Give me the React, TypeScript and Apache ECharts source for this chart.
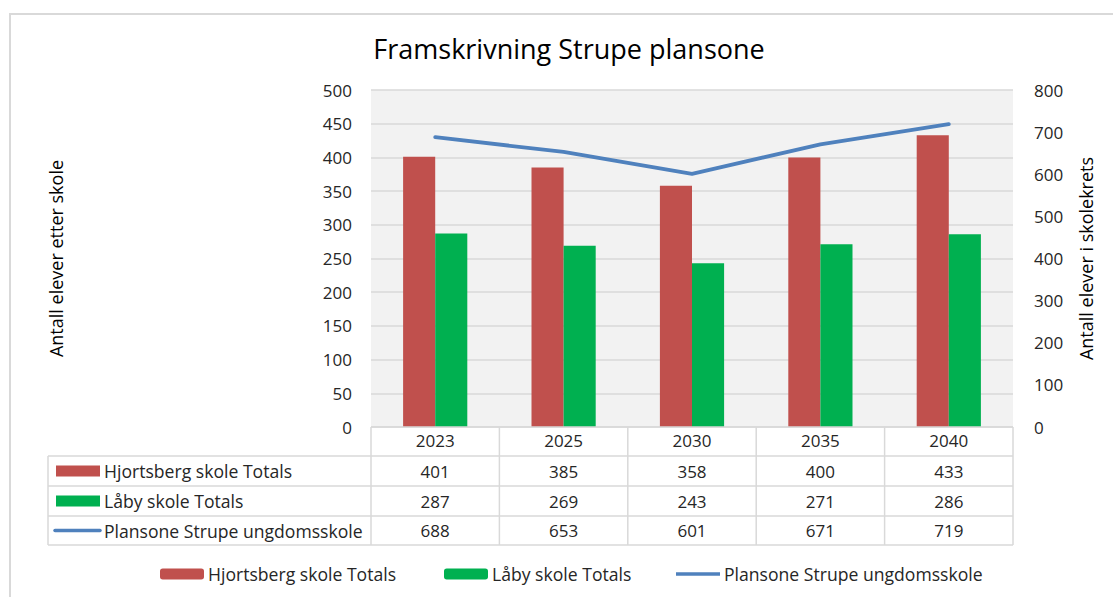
import React, { useEffect, useRef } from "react";
import * as echarts from "echarts";

const years = ["2023", "2025", "2030", "2035", "2040"];
const seriesNames = ["Hjortsberg skole Totals", "Låby skole Totals", "Plansone Strupe ungdomsskole"];
const hjortsberg = [401, 385, 358, 400, 433];
const laby = [287, 269, 243, 271, 286];
const plansone = [688, 653, 601, 671, 719];
const leftAxisTitle = "Antall elever etter skole";
const rightAxisTitle = "Antall elever i skolekrets";
const chartTitle = "Framskrivning Strupe plansone";

const RED = "#c0504d";
const GREEN = "#00b050";
const BLUE = "#4f81bd";
const GRIDC = "#d9d9d9";
const TXT = "#262626";
const FONT = "'Open Sans', 'Liberation Sans', sans-serif";
const FS = 17;
const FS_LABEL = 17.6;

export default function App() {
  const ref = useRef<HTMLDivElement>(null);
  useEffect(() => {
    if (!ref.current) return;
    const chart = echarts.init(ref.current, undefined, { renderer: "svg" });
    const gLeft = 371, gTop = 90, gW = 642, gH = 337;
    const gBottom = gTop + gH;
    const colW = gW / years.length;
    const tableLeft = 48;
    const rowYs = [gBottom, 456, 486, 516, 545];
    const graphic: any[] = [];
    graphic.push({
      type: "rect", shape: { x: 10, y: 14, width: 1130, height: 620 },
      style: { fill: "none", stroke: GRIDC, lineWidth: 2 }, z: 0,
    });
    rowYs.forEach((y, i) => {
      graphic.push({
        type: "line",
        shape: { x1: i === 0 ? gLeft : tableLeft, y1: y, x2: gLeft + gW, y2: y },
        style: { stroke: GRIDC, lineWidth: 1.5 }, z: 5,
      });
    });
    graphic.push({
      type: "line", shape: { x1: tableLeft, y1: rowYs[1], x2: tableLeft, y2: rowYs[4] },
      style: { stroke: GRIDC, lineWidth: 1.5 }, z: 5,
    });
    for (let i = 0; i <= years.length; i++) {
      const x = gLeft + i * colW;
      graphic.push({
        type: "line", shape: { x1: x, y1: gBottom, x2: x, y2: rowYs[4] },
        style: { stroke: GRIDC, lineWidth: 1.5 }, z: 5,
      });
    }
    const rows = [hjortsberg, laby, plansone];
    rows.forEach((vals, r) => {
      const cy = (rowYs[r + 1] + rowYs[r + 2]) / 2;
      if (r < 2) {
        graphic.push({
          type: "rect", shape: { x: 56, y: cy - 5.5, width: 44, height: 11 },
          style: { fill: r === 0 ? RED : GREEN }, z: 6,
        });
      } else {
        graphic.push({
          type: "line", shape: { x1: 55, y1: cy, x2: 100, y2: cy },
          style: { stroke: BLUE, lineWidth: 3.5, lineCap: "round" }, z: 6,
        });
      }
      graphic.push({
        type: "text", x: 104, y: cy,
        style: { text: seriesNames[r], font: `${FS_LABEL}px ${FONT}`, fill: TXT, verticalAlign: "middle", align: "left" }, z: 6,
      });
      vals.forEach((v, c) => {
        graphic.push({
          type: "text", x: gLeft + (c + 0.5) * colW, y: cy,
          style: { text: String(v), font: `${FS}px ${FONT}`, fill: TXT, verticalAlign: "middle", align: "center" }, z: 6,
        });
      });
    });
    graphic.push({
      type: "text", x: 56, y: gTop + gH / 2, rotation: Math.PI / 2,
      style: { text: leftAxisTitle, font: `18px ${FONT}`, fill: "#000", verticalAlign: "middle", align: "center" }, z: 6,
    });
    graphic.push({
      type: "text", x: 1086, y: gTop + gH / 2, rotation: Math.PI / 2,
      style: { text: rightAxisTitle, font: `18px ${FONT}`, fill: "#000", verticalAlign: "middle", align: "center" }, z: 6,
    });
    graphic.push({
      type: "text", x: 569, y: 48,
      style: { text: chartTitle, font: `27px ${FONT}`, fill: "#000", verticalAlign: "middle", align: "center" }, z: 6,
    });

    const legendCommon = {
      top: 565, itemWidth: 44, itemHeight: 11, itemGap: 5,
      textStyle: { fontSize: FS_LABEL, fontFamily: FONT, color: TXT, padding: [0, 0, 0, -1] },
      padding: 0,
    };

    chart.setOption({
      animation: false,
      textStyle: { fontFamily: FONT },
      grid: { left: gLeft, top: gTop, width: gW, height: gH, show: true, backgroundColor: "#f2f2f2", borderWidth: 0 },
      legend: [
        { ...legendCommon, left: 160, data: [seriesNames[0]] },
        { ...legendCommon, left: 444, data: [seriesNames[1]] },
        { ...legendCommon, left: 676, data: [{ name: seriesNames[2], icon: "path://M0,0 L44,0 L44,3.5 L0,3.5 Z" }], itemHeight: 3.5 },
      ],
      xAxis: {
        type: "category", data: years,
        axisLine: { show: false }, axisTick: { show: false },
        axisLabel: { margin: 5, fontSize: FS, fontFamily: FONT, color: TXT, verticalAlign: "top" },
      },
      yAxis: [
        {
          type: "value", min: 0, max: 500, interval: 50, position: "left",
          axisLine: { show: false }, axisTick: { show: false },
          axisLabel: { margin: 19, fontSize: FS, fontFamily: FONT, color: TXT },
          splitLine: { lineStyle: { color: GRIDC, width: 1.5 } },
        },
        {
          type: "value", min: 0, max: 800, interval: 100, position: "right",
          axisLine: { show: false }, axisTick: { show: false },
          axisLabel: { margin: 21, fontSize: FS, fontFamily: FONT, color: TXT },
          splitLine: { show: false },
        },
      ],
      series: [
        { name: seriesNames[0], type: "bar", data: hjortsberg, itemStyle: { color: RED }, barGap: "0%", barCategoryGap: "50%", yAxisIndex: 0 },
        { name: seriesNames[1], type: "bar", data: laby, itemStyle: { color: GREEN }, yAxisIndex: 0 },
        {
          name: seriesNames[2], type: "line", data: plansone, yAxisIndex: 1, symbol: "none",
          lineStyle: { color: BLUE, width: 3.8, cap: "round", join: "round" }, itemStyle: { color: BLUE }, z: 4,
        },
      ],
      graphic,
    });
    return () => chart.dispose();
  }, []);
  return <div ref={ref} style={{ position: "fixed", left: 0, top: 0, width: 1113, height: 597, background: "#fff" }} />;
}
